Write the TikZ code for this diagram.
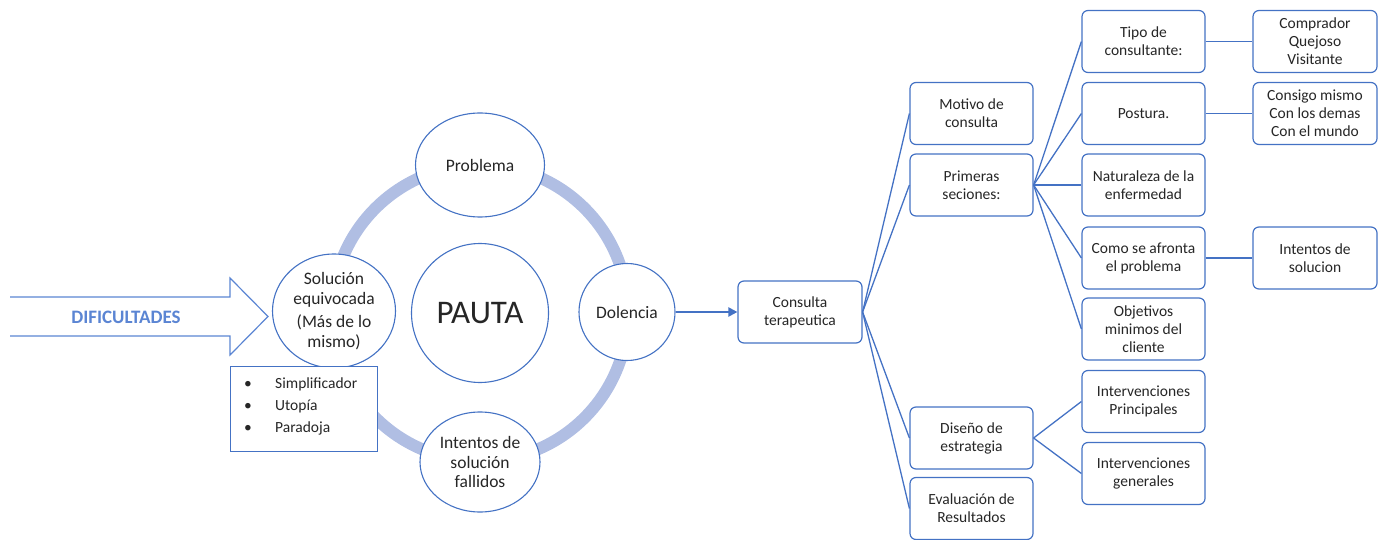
\documentclass[tikz,border=0pt]{standalone}
\usepackage{fontspec}
\setmainfont{Carlito}
\usetikzlibrary{shapes.geometric,arrows.meta}
\definecolor{boxblue}{HTML}{4472C4}
\definecolor{arrowblue}{HTML}{5B85D3}
\definecolor{ringblue}{HTML}{B0BEE3}
\definecolor{inkgray}{HTML}{262626}
\tikzset{
  box/.style={draw=boxblue, line width=1.2pt, rounded corners=6pt, fill=white,
    minimum width=123pt, minimum height=62pt, inner sep=2pt, align=center,
    text=inkgray, font=\fontsize{15.5}{18}\selectfont},
  bubble/.style={ellipse, draw=boxblue, line width=1.1pt, fill=white, inner sep=0pt,
    align=center, text=inkgray, font=\fontsize{17.5}{19.5}\selectfont},
  conn/.style={draw=boxblue, line width=1.3pt},
  ring/.style={draw=ringblue, line width=12pt},
  listtext/.style={anchor=base west, inner sep=0pt, text=inkgray, font=\fontsize{15.5}{18}\selectfont}
}
\begin{document}
\begin{tikzpicture}[x=1pt,y=-1pt]
\useasboundingbox (0,0) rectangle (1381,540);

% incoming arrow
\draw[draw=arrowblue, line width=1.2pt, line join=miter]
  (10,297) -- (230,297) -- (230,278) -- (268,316.5) -- (230,355) -- (230,336) -- (10,336);
\node[text=arrowblue, font=\fontsize{19}{21}\selectfont\bfseries] (dificultades) at (126,317) {DIFICULTADES};

% cycle of the pattern
\coordinate (centro) at (480,313);
\draw[ring] (centro) circle (148);

\node[bubble, minimum width=129pt, minimum height=104pt] (problema) at (480,165) {Problema};
\node[bubble, minimum width=137pt, minimum height=139pt, font=\fontsize{33}{36}\selectfont] (pauta) at (480,313) {PAUTA};
\node[bubble, minimum width=96pt, minimum height=97pt] (dolencia) at (627,312) {Dolencia};
\node[bubble, minimum width=123pt, minimum height=114pt] (solucion) at (334,311)
  {Solución\\equivocada\\[4pt](Más de lo\\mismo)};
\node[bubble, minimum width=120pt, minimum height=100pt] (intentos) at (480,462)
  {Intentos de\\solución\\fallidos};

% list of kinds of wrong solution
\node[draw=boxblue, line width=1.2pt, fill=white, minimum width=147pt, minimum height=85pt,
  inner sep=0pt, anchor=north west] (lista) at (230,366) {};
\node[listtext] (b1) at (244,388) {•};
\node[listtext] (b2) at (244,410) {•};
\node[listtext] (b3) at (244,432) {•};
\node[listtext] (l1) at (275,388) {Simplificador};
\node[listtext] (l2) at (275,410) {Utopía};
\node[listtext] (l3) at (275,432) {Paradoja};

% therapy tree
\node[box, minimum width=124pt] (consulta) at (800,312) {Consulta\\terapeutica};

\node[box] (motivo)     at (971.5,113.5) {Motivo de\\consulta};
\node[box] (primeras)   at (971.5,185)   {Primeras\\seciones:};
\node[box] (diseno)     at (971.5,438)   {Diseño de\\estrategia};
\node[box] (evaluacion) at (971.5,508.5) {Evaluación de\\Resultados};

\node[box] (tipo)       at (1143.5,41.5)  {Tipo de\\consultante:};
\node[box] (postura)    at (1143.5,113.5) {Postura.};
\node[box] (naturaleza) at (1143.5,185)   {Naturaleza de la\\enfermedad};
\node[box] (afronta)    at (1143.5,258)   {Como se afronta\\el problema};
\node[box] (objetivos)  at (1143.5,329)   {Objetivos\\minimos del\\cliente};
\node[box] (princip)    at (1143.5,401.5) {Intervenciones\\Principales};
\node[box] (generales)  at (1143.5,473.5) {Intervenciones\\generales};

\node[box, minimum width=124pt] (comprador) at (1315,41.5)  {Comprador\\Quejoso\\Visitante};
\node[box, minimum width=124pt] (consigo)   at (1315,113.5) {Consigo mismo\\Con los demas\\Con el mundo};
\node[box, minimum width=124pt] (intsol)    at (1315,258)   {Intentos de\\solucion};

\draw[draw=boxblue, line width=2.2pt, -{Triangle[length=9pt,width=9pt]}] (dolencia.east) -- (consulta.west);

\foreach \n in {motivo,primeras,diseno,evaluacion}
  \draw[conn] (consulta.east) -- (\n.west);
\foreach \n in {tipo,postura,naturaleza,afronta,objetivos}
  \draw[conn] (primeras.east) -- (\n.west);
\foreach \n in {princip,generales}
  \draw[conn] (diseno.east) -- (\n.west);
\draw[conn] (tipo.east) -- (comprador.west);
\draw[conn] (postura.east) -- (consigo.west);
\draw[conn] (afronta.east) -- (intsol.west);
\end{tikzpicture}
\end{document}
